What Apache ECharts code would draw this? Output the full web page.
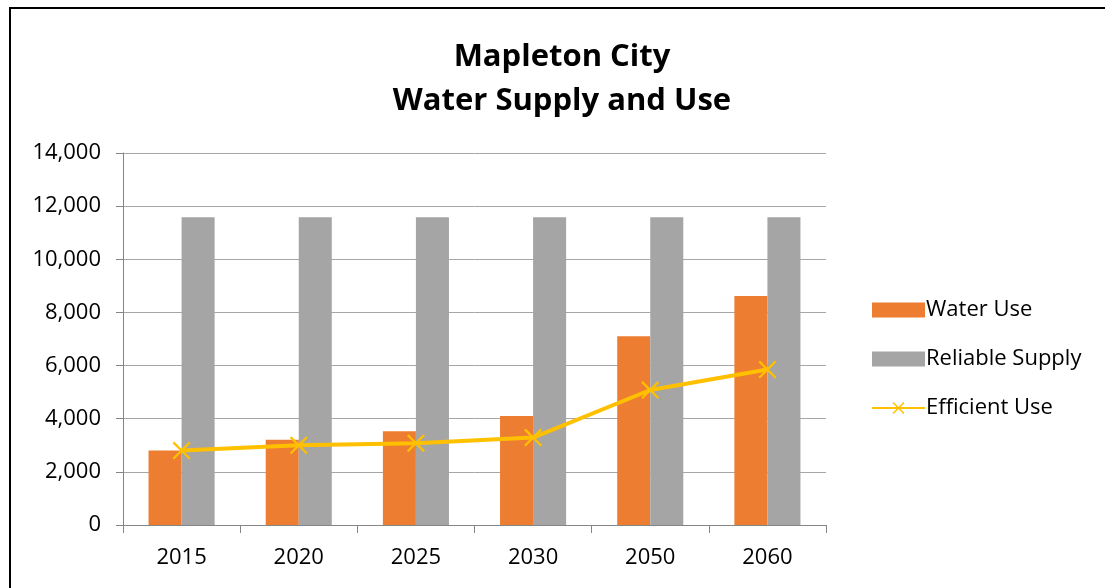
<!DOCTYPE html>
<html><head><meta charset="utf-8">
<script src="https://cdn.jsdelivr.net/npm/echarts@6/dist/echarts.min.js"></script>
<style>html,body{margin:0;padding:0;background:#fff}#c{width:1105px;height:588px}</style>
</head><body><div id="c"></div>
<script>
const categories = ['2015','2020','2025','2030','2050','2060'];
const waterUse = [2800, 3210, 3530, 4100, 7100, 8620];
const reliableSupply = [11580, 11580, 11580, 11580, 11580, 11580];
const efficientUse = [2800, 3000, 3080, 3290, 5080, 5850];
const yTicks = {min: 0, max: 14000, interval: 2000};

const font = "'Open Sans', 'Noto Sans', sans-serif";
const xSym = 'path://M0,0.9L0.9,0L10,9.1L9.1,10Z M9.1,0L10,0.9L0.9,10L0,9.1Z';
const chart = echarts.init(document.getElementById('c'));
chart.setOption({
  animation: false,
  backgroundColor: '#fff',
  title: {
    text: 'Mapleton City\nWater Supply and Use',
    left: 557, top: 30, textAlign: 'center',
    textStyle: {fontFamily: font, fontSize: 31, fontWeight: 'bold', color: '#000', lineHeight: 44}
  },
  graphic: [{type: 'rect', shape: {x: 10, y: 8, width: 1110, height: 600},
    style: {fill: 'none', stroke: '#000', lineWidth: 2}, silent: true}],
  grid: {left: 123, right: 279, top: 153, bottom: 63, containLabel: false},
  legend: {
    orient: 'vertical', left: 866, top: 294, itemGap: 27, itemWidth: 53, itemHeight: 15,
    textStyle: {fontFamily: font, fontSize: 22, color: '#000', padding: [0,0,0,-4]},
    data: [
      {name: 'Water Use', icon: 'rect'},
      {name: 'Reliable Supply', icon: 'rect'},
      {name: 'Efficient Use'}
    ]
  },
  xAxis: {
    type: 'category', data: categories, boundaryGap: true,
    axisLine: {lineStyle: {color: '#868686', width: 1}},
    axisTick: {show: true, length: 8, lineStyle: {color: '#868686'}},
    axisLabel: {fontFamily: font, fontSize: 22, color: '#000', margin: 22}
  },
  yAxis: {
    type: 'value', min: yTicks.min, max: yTicks.max, interval: yTicks.interval,
    axisLine: {show: true, lineStyle: {color: '#868686'}},
    axisTick: {show: true, length: 7, lineStyle: {color: '#868686'}},
    splitLine: {lineStyle: {color: '#a6a6a6', width: 1}},
    axisLabel: {fontFamily: font, fontSize: 22, color: '#000', margin: 22,
      formatter: v => v.toLocaleString('en-US')}
  },
  series: [
    {name: 'Water Use', type: 'bar', data: waterUse, barGap: '0%', barCategoryGap: '43.6%',
      itemStyle: {color: '#ED7D31'}},
    {name: 'Reliable Supply', type: 'bar', data: reliableSupply,
      itemStyle: {color: '#A5A5A5'}},
    {name: 'Efficient Use', type: 'line', data: efficientUse, symbol: xSym, symbolSize: 18,
      lineStyle: {color: '#FFC000', width: 4}, itemStyle: {color: '#FFC000'}}
  ]
});
</script></body></html>
